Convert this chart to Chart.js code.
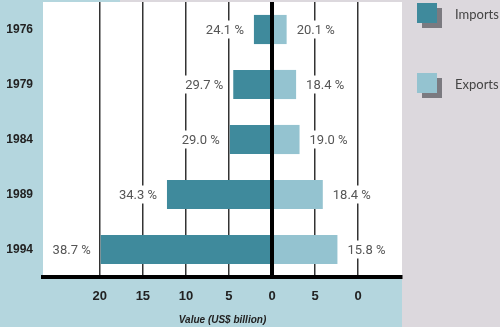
<!DOCTYPE html>
<html>
<head>
<meta charset="utf-8">
<script src="https://cdn.jsdelivr.net/npm/chart.js@4"></script>
<style>
  html, body { margin: 0; padding: 0; background: #dcd8dd; }
  #wrap { width: 500px; height: 327px; position: relative; }
</style>
</head>
<body>
<div id="wrap"><canvas id="chart" width="500" height="327"></canvas></div>
<script>
// data (US$ billion, share in %)
const years = ['1976', '1979', '1984', '1989', '1994'];
const imports = [2.1, 4.5, 4.9, 12.2, 19.9];
const exportsVal = [1.7, 2.8, 3.2, 5.9, 7.6];
const importShare = ['24.1 %', '29.7 %', '29.0 %', '34.3 %', '38.7 %'];
const exportShare = ['20.1 %', '18.4 %', '19.0 %', '18.4 %', '15.8 %'];
const tickValues = [-20, -15, -10, -5, 0, 5, 10];
const tickText = ['20', '15', '10', '5', '0', '5', '0'];

const importColor = '#3f8a9c';
const exportColor = '#94c3d0';

// no automatic label padding around the plot
function noPad(s) {
  s.paddingLeft = 0; s.paddingRight = 0; s.paddingTop = 0; s.paddingBottom = 0;
}

// backgrounds: blue band left/bottom, white plot, grey panel right
const panels = {
  id: 'panels',
  beforeDraw(chart) {
    const { ctx, chartArea: a } = chart;
    ctx.save();
    ctx.fillStyle = '#dcd8dd';
    ctx.fillRect(0, 0, chart.width, chart.height);
    ctx.fillStyle = '#b4d6de';
    ctx.fillRect(0, 0, a.right, chart.height);
    ctx.fillStyle = '#dcd8dd';
    ctx.fillRect(120, 0, a.right - 120, a.top);
    ctx.fillStyle = '#ffffff';
    ctx.fillRect(a.left, a.top, a.right - a.left, a.bottom - a.top);
    ctx.restore();
  }
};

const overlay = {
  id: 'overlay',
  afterDatasetsDraw(chart) {
    const { ctx, chartArea: a } = chart;
    const x0 = chart.scales.x.getPixelForValue(0);
    ctx.save();
    // zero line
    ctx.fillStyle = '#000';
    ctx.fillRect(x0 - 2, a.top, 4, a.bottom - a.top);

    // share labels with white boxes over the grid
    ctx.font = '13px Roboto';
    ctx.textBaseline = 'middle';
    const sets = [[0, importShare, -1], [1, exportShare, 1]];
    sets.forEach(([di, texts, dir]) => {
      chart.getDatasetMeta(di).data.forEach((bar, i) => {
        const t = texts[i];
        const w = ctx.measureText(t).width;
        const xs = bar.x + dir * 10;
        const left = dir < 0 ? xs - w : xs;
        ctx.fillStyle = '#ffffff';
        ctx.fillRect(left - 2, bar.y - 9, w + 4, 18);
        ctx.fillStyle = '#555555';
        ctx.textAlign = 'left';
        ctx.fillText(t, left, bar.y + 1);
      });
    });

    // legend in the grey panel
    const items = [['Imports', importColor, 3], ['Exports', exportColor, 73]];
    ctx.font = '13px Lato';
    items.forEach(([name, col, y]) => {
      ctx.fillStyle = '#7b7a80';
      ctx.fillRect(422, y + 5, 20, 20);
      ctx.fillStyle = col;
      ctx.fillRect(417, y, 20, 20);
      ctx.fillStyle = '#444';
      ctx.textAlign = 'left';
      ctx.fillText(name, 455, y + 12);
    });
    ctx.restore();
  }
};

new Chart(document.getElementById('chart'), {
  type: 'bar',
  data: {
    labels: years,
    datasets: [
      { label: 'Imports', data: imports.map(v => -v), backgroundColor: importColor },
      { label: 'Exports', data: exportsVal, backgroundColor: exportColor }
    ]
  },
  options: {
    indexAxis: 'y',
    responsive: false,
    animation: false,
    layout: { padding: { top: 2, right: 98, left: 6, bottom: 0 } },
    barPercentage: 0.53,
    categoryPercentage: 1,
    plugins: { legend: { display: false }, tooltip: { enabled: false } },
    scales: {
      x: {
        stacked: true,
        min: -26.6,
        max: 15.1,
        afterBuildTicks(s) { s.ticks = tickValues.map(v => ({ value: v })); },
        afterFit(s) { noPad(s); s.height = 50; },
        grid: {
          drawTicks: false,
          color: (c) => c.tick && c.tick.value === 0 ? 'rgba(0,0,0,0)' : '#333',
          lineWidth: 1.5
        },
        border: { display: true, color: '#000', width: 4 },
        ticks: {
          padding: 12,
          color: '#222',
          font: { family: 'Liberation Sans', size: 13, weight: 'bold' },
          callback: (v) => tickText[tickValues.indexOf(v)]
        },
        title: {
          display: true,
          text: 'Value (US$ billion)',
          color: '#222',
          font: { family: 'Liberation Sans', size: 10, weight: 'bold', style: 'italic' },
          padding: { top: 8, bottom: 1 }
        }
      },
      y: {
        stacked: true,
        afterFit(s) { noPad(s); s.width = 37; },
        grid: { display: false, drawTicks: false },
        border: { display: false },
        ticks: {
          padding: 10,
          color: '#222',
          font: { family: 'Liberation Sans', size: 12, weight: 'bold' }
        }
      }
    }
  },
  plugins: [panels, overlay]
});
</script>
</body>
</html>
